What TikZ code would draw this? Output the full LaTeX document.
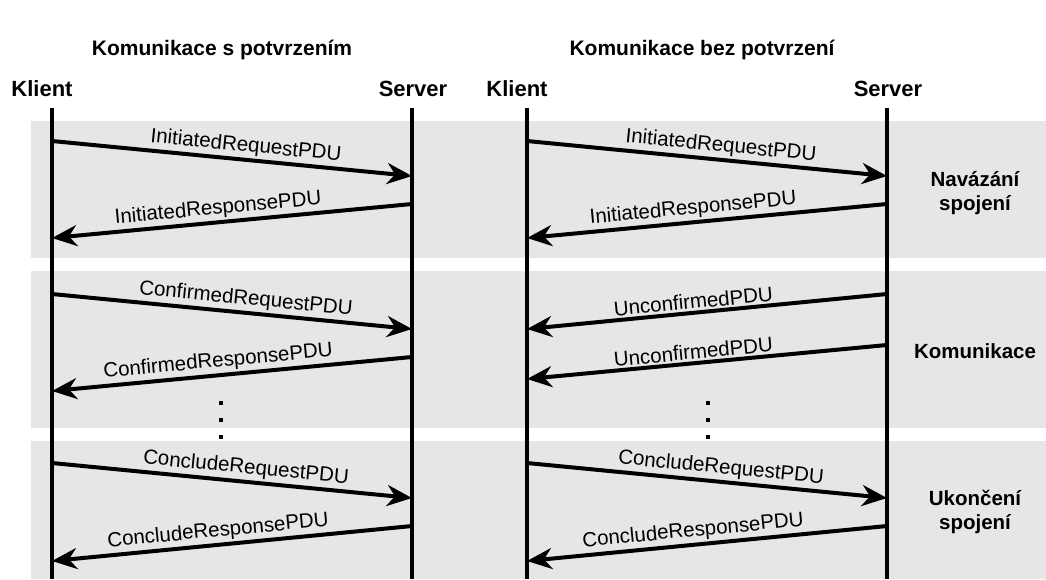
\documentclass[tikz,border=0pt]{standalone}
\usepackage{fontspec}
\setmainfont{Liberation Sans}
\usetikzlibrary{arrows.meta}
\definecolor{bandgray}{HTML}{E6E6E6}
\begin{document}
\begin{tikzpicture}[x=1pt,y=-1pt,
  band/.style={fill=bandgray, draw=none},
  life/.style={line width=4pt},
  msg/.style={line width=4pt, -{Stealth[length=25pt,width=21pt,inset=8pt]}},
  lbl/.style={font=\fontsize{20.5}{24}\selectfont, sloped, above, inner sep=2pt, pos=0.535},
  head/.style={font=\fontsize{22}{26}\selectfont\bfseries, anchor=base, inner sep=0pt},
  title/.style={font=\fontsize{21}{25}\selectfont\bfseries, anchor=base, inner sep=0pt},
  phase/.style={font=\fontsize{20.5}{23.3}\selectfont\bfseries, align=center, inner sep=0pt},
  dotmark/.style={fill=black, minimum size=4.5pt, inner sep=0pt, draw=none}
]
\useasboundingbox (0,0) rectangle (1046,579);

% phase bands
\fill[band] (31,121) rectangle (1046,258);
\fill[band] (31,271) rectangle (1046,428);
\fill[band] (31,441) rectangle (1046,579);

% titles
\node[title] (t1) at (222,55) {Komunikace s potvrzením};
\node[title] (t2) at (702,55) {Komunikace bez potvrzení};

% participants
\node[head] (k1) at (42,96) {Klient};
\node[head] (s1) at (413,96) {Server};
\node[head] (k2) at (517,96) {Klient};
\node[head] (s2) at (888,96) {Server};

% lifelines
\coordinate (k1top) at (52,108);  \coordinate (k1bot) at (52,579);
\coordinate (s1top) at (412,108); \coordinate (s1bot) at (412,579);
\coordinate (k2top) at (527,108); \coordinate (k2bot) at (527,579);
\coordinate (s2top) at (887,108); \coordinate (s2bot) at (887,579);
\draw[life] (k1top) -- (k1bot);
\draw[life] (s1top) -- (s1bot);
\draw[life] (k2top) -- (k2bot);
\draw[life] (s2top) -- (s2bot);

% message end points, confirmed side
\coordinate (a1) at (52,141);  \coordinate (b1) at (412,176);
\coordinate (a2) at (412,204); \coordinate (b2) at (52,238);
\coordinate (a3) at (52,294);  \coordinate (b3) at (412,329);
\coordinate (a4) at (412,357); \coordinate (b4) at (52,391);
\coordinate (a5) at (52,463);  \coordinate (b5) at (412,498);
\coordinate (a6) at (412,526); \coordinate (b6) at (52,561);

% message end points, unconfirmed side
\coordinate (c1) at (527,141); \coordinate (d1) at (887,176);
\coordinate (c2) at (887,204); \coordinate (d2) at (527,238);
\coordinate (c3) at (887,294); \coordinate (d3) at (527,329);
\coordinate (c4) at (887,345); \coordinate (d4) at (527,379);
\coordinate (c5) at (527,463); \coordinate (d5) at (887,498);
\coordinate (c6) at (887,526); \coordinate (d6) at (527,561);

% confirmed messages
\draw[msg] (a1) -- node[lbl] {InitiatedRequestPDU} (b1);
\draw[msg] (a2) -- node[lbl] {InitiatedResponsePDU} (b2);
\draw[msg] (a3) -- node[lbl] {ConfirmedRequestPDU} (b3);
\draw[msg] (a4) -- node[lbl] {ConfirmedResponsePDU} (b4);
\draw[msg] (a5) -- node[lbl] {ConcludeRequestPDU} (b5);
\draw[msg] (a6) -- node[lbl] {ConcludeResponsePDU} (b6);

% unconfirmed messages
\draw[msg] (c1) -- node[lbl] {InitiatedRequestPDU} (d1);
\draw[msg] (c2) -- node[lbl] {InitiatedResponsePDU} (d2);
\draw[msg] (c3) -- node[lbl] {UnconfirmedPDU} (d3);
\draw[msg] (c4) -- node[lbl] {UnconfirmedPDU} (d4);
\draw[msg] (c5) -- node[lbl] {ConcludeRequestPDU} (d5);
\draw[msg] (c6) -- node[lbl] {ConcludeResponsePDU} (d6);

% continuation dots
\foreach \yy [count=\i] in {403,420,437} {
  \node[dotmark] (ld\i) at (221,\yy) {};
  \node[dotmark] (rd\i) at (708,\yy) {};
}

% phase names
\node[phase] (p1) at (975,193) {Navázání\\spojení};
\node[phase, anchor=base] (p2) at (975,358) {Komunikace};
\node[phase] (p3) at (975,512) {Ukončení\\spojení};
\end{tikzpicture}
\end{document}
